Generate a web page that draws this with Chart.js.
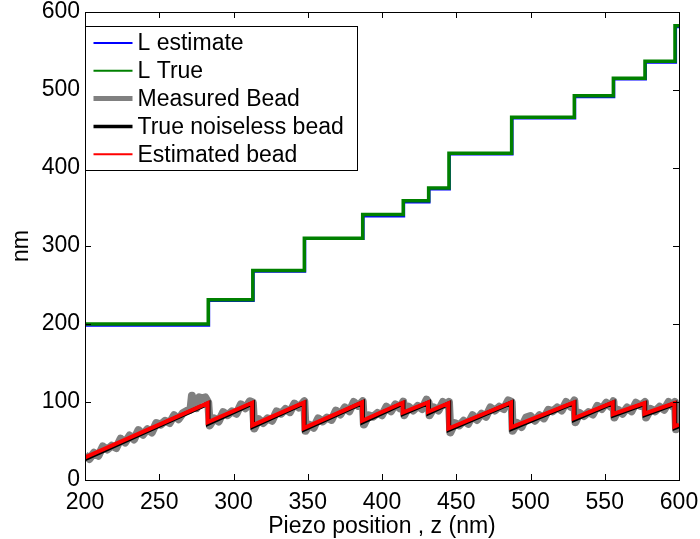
<!DOCTYPE html>
<html>
<head>
<meta charset="utf-8">
<script src="https://cdn.jsdelivr.net/npm/chart.js@4/dist/chart.umd.min.js"></script>
<style>
  html, body { margin: 0; padding: 0; background: #fff; }
  #wrap { width: 700px; height: 539px; position: relative; }
</style>
</head>
<body>
<div id="wrap"><canvas id="c"></canvas></div>
<script>
// Tick marks on both axes
const xTicks = [200, 250, 300, 350, 400, 450, 500, 550, 600];
const yTicks = [0, 100, 200, 300, 400, 500, 600];

// Contour length L (nm) versus piezo position z (nm): estimated and true step levels
const lEstZ = [200, 283.3, 313.3, 348.0, 387.3, 414.6, 431.7, 445.4, 487.6, 529.8, 556.1, 577.4, 597.7, 600];
const lEstY = [198.5, 230.0, 267.5, 309.5, 338.5, 356.5, 373.0, 418.0, 464.0, 491.5, 514.0, 535.5, 581.0, 581.0];
const lTrueZ = [200, 283.0, 313.0, 347.7, 387.0, 414.3, 431.4, 445.1, 487.3, 529.5, 555.8, 577.1, 597.3, 600];
const lTrueY = [200.0, 231.0, 268.5, 310.0, 340.5, 358.0, 374.5, 419.0, 465.0, 492.5, 515.0, 537.0, 582.5, 582.5];

// Measured bead position (nm), noisy trace
const measZ = [
  200, 203, 206, 209, 212, 215, 218, 221, 224, 227, 230, 233, 236, 239, 242, 245, 248, 251, 254, 257,
  260, 263, 266, 269, 271, 272, 273, 275, 277, 279, 281, 283,
  284, 287, 290, 293, 296, 299, 302, 305, 308, 311, 313,
  314, 317, 320, 323, 326, 329, 332, 335, 338, 341, 344, 347.7,
  348.5, 351, 354, 357, 360, 363, 366, 369, 372, 375, 378, 381, 384, 387,
  387.8, 391, 394, 397, 400, 403, 406, 409, 412, 414.3,
  415, 418, 421, 424, 427, 430, 431.4,
  432, 435, 438, 441, 444, 445.1,
  446, 449, 452, 455, 458, 461, 464, 467, 470, 473, 476, 479, 482, 485, 487.3,
  488, 491, 494, 497, 500, 503, 506, 509, 512, 515, 518, 521, 524, 527, 529.5,
  530.3, 533, 536, 539, 542, 545, 548, 551, 554, 555.8,
  556.5, 559, 562, 565, 568, 571, 574, 577.1,
  577.8, 581, 584, 587, 590, 593, 596, 597.3,
  598, 600
];
const measY = [
  32, 27, 35, 31, 43, 39, 44, 41, 53, 48, 57, 52, 64, 58, 65, 61, 73, 71, 76, 73,
  83, 78, 86, 89, 90, 108, 93, 92, 106, 104, 106, 99,
  70, 79, 75, 87, 83, 88, 85, 97, 92, 101, 99.5,
  66, 78, 73, 79, 76, 88, 85, 91, 87, 98, 93, 101,
  63, 71, 67, 79, 75, 80, 77, 89, 84, 93, 88, 100, 95, 101,
  71, 83, 81, 86, 83, 94, 88, 97, 92, 100.5,
  83, 94, 89, 95, 91, 103, 99,
  83, 93, 89, 100, 95, 100,
  61, 73, 70, 76, 72, 83, 77, 85, 81, 93, 89, 94, 91, 102, 100,
  63, 73, 68, 80, 82, 76, 83, 79, 90, 88, 93, 89, 100, 94, 102,
  74, 86, 82, 87, 84, 95, 91, 99, 94, 101,
  80, 90, 85, 93, 88, 99, 95, 100,
  80, 91, 88, 94, 90, 100, 94, 100,
  65, 71
];

// True noiseless bead position (nm): sawtooth vertices
const trueBeadZ = [200, 283, 283, 313, 313, 347.7, 347.7, 387, 387, 414.3, 414.3, 431.4, 431.4,
  445.1, 445.1, 487.3, 487.3, 529.5, 529.5, 555.8, 555.8, 577.1, 577.1, 597.3, 597.3, 600];
const trueBeadY = [27, 98, 72.5, 98.5, 68.5, 98.8, 65, 99.2, 74.5, 98.5, 85, 99, 86,
  98, 64.5, 99, 66, 99, 77.5, 99, 83, 98, 83.5, 98, 67, 69];

// Estimated bead position (nm)
const estBeadZ = [200, 282.6, 282.6, 312.6, 312.6, 347.3, 347.3, 386.6, 386.6, 413.9, 413.9, 431.0, 431.0,
  444.7, 444.7, 486.9, 486.9, 529.1, 529.1, 555.4, 555.4, 576.7, 576.7, 596.9, 596.9, 600];
const estBeadY = [29, 98.5, 74, 99, 70, 99.2, 66.5, 99.6, 76, 99, 86.5, 99.5, 87.5,
  98.5, 66, 99.5, 67.5, 99.5, 79, 99.5, 84.5, 98.5, 85, 98.5, 68.5, 71];

const seriesLabels = ['L estimate', 'L True', 'Measured Bead', 'True noiseless bead', 'Estimated bead'];

const pairs = (zs, ys) => zs.map((z, i) => ({ x: z, y: ys[i] }));

const FONT = '"Liberation Sans", Arial, Helvetica, sans-serif';
Chart.defaults.font.family = FONT;
Chart.defaults.font.size = 23;
Chart.defaults.color = '#000';

// Box around the plot, inward ticks on all four sides, and a framed legend
const framePlugin = {
  id: 'frame',
  afterDatasetsDraw(chart) {
    const { ctx, chartArea: a, scales } = chart;
    const tick = 6;
    ctx.save();
    ctx.strokeStyle = '#000';
    ctx.lineWidth = 1;
    ctx.beginPath();
    xTicks.forEach(v => {
      const px = Math.round(scales.x.getPixelForValue(v)) + 0.5;
      ctx.moveTo(px, a.bottom); ctx.lineTo(px, a.bottom - tick);
      ctx.moveTo(px, a.top); ctx.lineTo(px, a.top + tick);
    });
    yTicks.forEach(v => {
      const py = Math.round(scales.y.getPixelForValue(v)) + 0.5;
      ctx.moveTo(a.left, py); ctx.lineTo(a.left + tick, py);
      ctx.moveTo(a.right, py); ctx.lineTo(a.right - tick, py);
    });
    ctx.stroke();
    ctx.strokeRect(Math.round(a.left) + 0.5, Math.round(a.top) + 0.5,
                   Math.round(a.right - a.left), Math.round(a.bottom - a.top));

    // legend
    const bx = Math.round(a.left) + 0.5, by = Math.round(a.top) + 14.5;
    const bw = 272, bh = 144;
    ctx.fillStyle = '#fff';
    ctx.fillRect(bx, by, bw, bh);
    ctx.strokeRect(bx, by, bw, bh);
    ctx.font = '23px ' + FONT;
    ctx.textBaseline = 'middle';
    ctx.textAlign = 'left';
    chart.data.datasets.forEach((ds, i) => {
      const y = by + 16.5 + i * 27.8;
      ctx.strokeStyle = ds.borderColor;
      ctx.lineWidth = ds.legendWidth;
      ctx.beginPath();
      ctx.moveTo(bx + 8, y); ctx.lineTo(bx + 47, y);
      ctx.stroke();
      ctx.fillStyle = '#000';
      ctx.fillText(ds.label, bx + 52, y + 1);
    });
    ctx.restore();
  }
};

const common = { pointRadius: 0, fill: false, tension: 0, borderCapStyle: 'butt' };

new Chart(document.getElementById('c'), {
  type: 'line',
  data: {
    datasets: [
      { ...common, label: seriesLabels[0], data: pairs(lEstZ, lEstY), borderColor: '#0000ff',
        borderWidth: 3, stepped: 'before', order: 4, legendWidth: 2 },
      { ...common, label: seriesLabels[1], data: pairs(lTrueZ, lTrueY), borderColor: '#008000',
        borderWidth: 3.5, stepped: 'before', order: 3, legendWidth: 2 },
      { ...common, label: seriesLabels[2], data: pairs(measZ, measY), borderColor: '#808080',
        borderWidth: 8, borderJoinStyle: 'round', order: 2, legendWidth: 5 },
      { ...common, label: seriesLabels[3], data: pairs(trueBeadZ, trueBeadY), borderColor: '#000000',
        borderWidth: 4.5, order: 1, legendWidth: 3.5 },
      { ...common, label: seriesLabels[4], data: pairs(estBeadZ, estBeadY), borderColor: '#ff0000',
        borderWidth: 4, order: 0, legendWidth: 2 }
    ]
  },
  options: {
    responsive: true,
    maintainAspectRatio: false,
    animation: false,
    events: [],
    layout: { padding: { top: 12, right: 21, left: 0, bottom: 0 } },
    plugins: { legend: { display: false }, tooltip: { enabled: false } },
    scales: {
      x: {
        type: 'linear', min: 200, max: 600,
        grid: { display: false, drawTicks: false },
        border: { display: false },
        ticks: { padding: 9, maxRotation: 0, autoSkip: false },
        afterBuildTicks: s => { s.ticks = xTicks.map(v => ({ value: v })); },
        afterFit: s => { s.height = 59; s.paddingLeft = 0; s.paddingRight = 0; },
        title: { display: true, text: 'Piezo position , z (nm)', padding: { top: 0, bottom: -1 } }
      },
      y: {
        type: 'linear', min: 0, max: 600,
        grid: { display: false, drawTicks: false },
        border: { display: false },
        ticks: { padding: 5, autoSkip: false },
        afterBuildTicks: s => { s.ticks = yTicks.map(v => ({ value: v })); },
        afterFit: s => { s.width = 85; s.paddingTop = 0; s.paddingBottom = 0; },
        title: { display: true, text: 'nm', padding: { top: 8, bottom: 0 } }
      }
    }
  },
  plugins: [framePlugin]
});
</script>
</body>
</html>
